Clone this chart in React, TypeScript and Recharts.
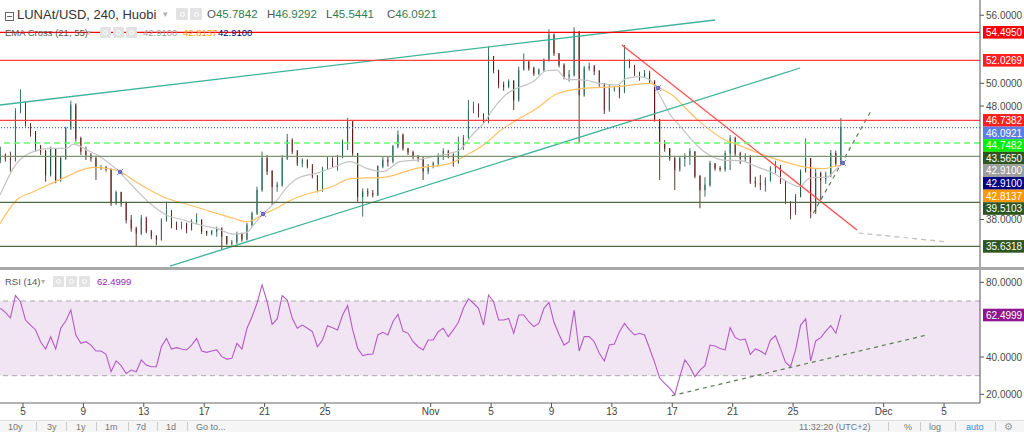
import React from "react";
import {
  ComposedChart,
  Bar,
  Line,
  XAxis,
  YAxis,
  ReferenceLine,
  ReferenceArea,
  Scatter,
} from "recharts";

// ---------------- data ----------------
// 8h candles; x values are days counted from Oct 1, 00:00
const FIRST_CANDLE_DAY = 2.5;
const CANDLE_STEP_DAY = 1 / 3;
const firstOpen = 43.24;

const closes = [
  43.69, 43.39, 43.24, 47.5, 48.24, 46.48, 45.74, 44.42, 43.98, 41.92,
  44.27, 41.48, 43.39, 46.03, 48.09, 45.15, 43.98, 43.69, 43.39, 42.6,
  42.6, 42.42, 39.43, 40.37, 39.43, 37.96, 37.22, 36.78, 38.11, 36.93,
  36.49, 36.26, 37.96, 38.69, 37.52, 37.37, 37.6, 37.13, 37.81, 37.96,
  36.93, 36.78, 36.93, 37.22, 36.49, 35.9, 35.96, 36.72, 36.26, 37.52,
  38.54, 40.6, 43.39, 42.22, 40.89, 41.04, 43.39, 45.01, 43.98, 42.95,
  43.24, 42.72, 41.78, 40.6, 42.51, 43.3, 42.8, 43.54, 44.86, 46.6,
  43.83, 40.01, 40.45, 40.31, 40.16, 42.66, 43.24, 43.1, 44.42, 45.45,
  44.27, 43.89, 43.54, 43.39, 42.22, 42.66, 42.95, 43.54, 43.98, 43.68,
  42.95, 44.27, 45.15, 47.65, 47.94, 47.21, 46.62, 52.35, 51.17, 49.85,
  49.7, 50.15, 48.53, 51.17, 51.91, 51.32, 50.88, 51.17, 52.06, 54.26,
  52.64, 51.61, 50.59, 50.73, 54.55, 48.97, 51.32, 51.47, 51.03, 50.0,
  47.65, 49.56, 49.56, 49.26, 52.06, 51.61, 50.88, 50.53, 50.88, 50.15,
  46.8, 44.71, 44.27, 43.39, 42.36, 43.39, 43.54, 43.98, 41.78, 40.6,
  41.04, 42.95, 42.51, 42.42, 43.83, 45.15, 43.83, 43.39, 43.54, 41.33,
  41.19, 41.04, 41.48, 42.51, 42.71, 41.33, 39.57, 38.6, 40.01, 42.22,
  43.39, 38.69, 42.07, 41.48, 41.92, 43.83, 42.95, 46.09,
];

const highs = [
  44.42, 43.83, 43.98, 47.8, 49.47, 48.38, 46.33, 45.59, 44.57, 44.13,
  44.42, 44.27, 43.54, 46.18, 48.47, 48.24, 45.3, 44.42, 43.83, 43.54,
  42.8, 42.72, 42.51, 40.54, 40.45, 39.57, 38.4, 37.37, 38.4, 38.25,
  37.08, 36.63, 38.11, 39.57, 38.84, 37.81, 37.81, 37.72, 38.02, 38.54,
  38.02, 37.02, 37.08, 37.37, 37.31, 36.55, 36.2, 36.93, 36.84, 37.72,
  38.69, 40.89, 43.98, 43.69, 42.36, 41.33, 43.69, 45.54, 45.15, 44.13,
  43.39, 43.3, 42.89, 41.92, 42.66, 43.54, 43.48, 43.69, 45.06, 46.95,
  46.7, 43.83, 40.75, 40.75, 40.6, 42.77, 43.54, 43.59, 44.57, 45.86,
  45.59, 44.27, 44.07, 43.68, 43.54, 42.89, 43.1, 43.83, 44.27, 44.13,
  43.83, 45.3, 45.45, 48.53, 48.38, 48.24, 47.36, 53.23, 52.41, 51.17,
  50.15, 50.35, 50.29, 51.47, 52.64, 51.82, 51.47, 51.32, 52.2, 54.76,
  54.4, 52.64, 51.76, 51.17, 54.93, 54.4, 51.53, 51.82, 51.61, 51.17,
  50.0, 49.85, 49.76, 49.85, 53.38, 52.11, 51.61, 51.03, 51.17, 51.11,
  50.29, 46.85, 45.0, 44.18, 43.54, 43.59, 43.83, 44.27, 43.98, 41.92,
  41.72, 43.18, 42.95, 42.71, 44.07, 45.45, 45.3, 43.98, 43.83, 43.68,
  41.77, 41.92, 41.72, 42.71, 43.18, 42.8, 41.48, 39.57, 40.25, 42.42,
  45.15, 43.39, 42.51, 42.22, 42.22, 44.13, 44.07, 46.93,
];

const lows = [
  42.95, 43.1, 42.22, 43.1, 47.36, 46.18, 45.3, 43.98, 43.69, 41.33,
  41.78, 41.19, 41.33, 43.24, 45.89, 44.86, 43.69, 43.24, 43.1, 41.48,
  42.36, 42.22, 39.19, 39.28, 39.13, 37.66, 36.93, 35.61, 36.63, 36.78,
  36.26, 35.75, 36.14, 37.81, 37.22, 37.08, 37.13, 36.78, 37.02, 37.6,
  36.72, 36.55, 36.6, 36.49, 35.31, 35.75, 35.67, 35.84, 36.05, 36.14,
  37.37, 38.4, 40.45, 41.92, 39.28, 40.45, 40.89, 43.24, 43.77, 42.72,
  42.6, 42.51, 41.63, 40.39, 40.45, 42.36, 42.6, 42.3, 43.39, 44.13,
  43.6, 39.57, 38.25, 40.01, 39.95, 40.07, 42.51, 42.66, 42.95, 44.27,
  44.07, 43.68, 43.3, 43.1, 41.48, 41.99, 42.51, 42.66, 43.24, 43.39,
  42.66, 42.95, 44.13, 45.15, 47.36, 46.98, 46.42, 46.48, 50.88, 49.56,
  49.35, 49.56, 47.65, 48.38, 51.32, 51.11, 50.65, 50.73, 51.03, 51.91,
  52.41, 51.4, 50.35, 50.15, 50.59, 44.71, 48.82, 51.11, 50.73, 49.7,
  47.3, 47.5, 49.26, 48.68, 49.12, 51.32, 50.65, 50.23, 50.53, 49.94,
  46.62, 41.48, 43.97, 43.18, 40.6, 42.22, 42.66, 42.8, 41.63, 38.99,
  40.01, 40.89, 42.3, 42.22, 42.22, 42.36, 43.59, 42.89, 43.1, 41.13,
  40.84, 40.6, 40.45, 41.33, 42.07, 41.13, 39.37, 38.02, 38.4, 39.95,
  42.13, 38.1, 38.48, 39.72, 41.13, 41.72, 42.71, 42.8,
];

const rsi14 = [
  66.1, 63.9, 61.0, 72.9, 69.6, 59.8, 57.1, 54.5, 48.2, 44.3,
  50.9, 44.3, 55.4, 59.3, 65.2, 51.8, 47.3, 48.2, 46.4, 43.2,
  43.2, 41.4, 32.1, 37.9, 35.4, 31.2, 33.0, 32.1, 38.4, 35.7,
  34.8, 34.8, 45.5, 50.0, 44.3, 45.0, 44.3, 43.8, 46.4, 50.0,
  43.2, 42.5, 43.2, 43.8, 40.2, 38.9, 39.3, 47.3, 44.3, 55.4,
  61.6, 68.8, 78.6, 69.6, 57.5, 60.4, 72.9, 70.5, 60.7, 55.4,
  57.1, 55.4, 53.6, 45.5, 49.1, 56.8, 55.7, 54.5, 62.5, 67.5,
  54.5, 44.6, 40.7, 41.4, 41.6, 51.8, 53.2, 51.8, 58.9, 62.9,
  53.9, 52.7, 48.2, 45.5, 43.8, 49.1, 49.1, 53.6, 55.4, 50.9,
  54.5, 58.6, 66.1, 71.1, 68.8, 66.1, 57.1, 73.2, 69.6, 59.8,
  59.8, 60.7, 52.7, 62.5, 62.5, 58.9, 56.3, 58.0, 66.1, 69.3,
  58.6, 52.1, 46.4, 48.2, 65.2, 43.2, 50.9, 50.9, 48.2, 42.0,
  37.9, 46.4, 47.0, 53.6, 58.0, 54.5, 51.8, 52.7, 51.8, 44.6,
  37.1, 28.6, 25.9, 23.2, 20.0, 29.5, 38.4, 34.8, 29.5, 33.0,
  35.4, 46.4, 45.9, 44.6, 43.8, 55.7, 50.5, 49.1, 49.6, 41.4,
  44.3, 43.2, 41.4, 49.1, 51.4, 44.6, 37.1, 34.8, 43.8, 57.1,
  60.4, 37.9, 48.6, 50.4, 53.9, 56.8, 52.7, 62.5,
];

// EMA lines, sampled at (fractional) candle index
const ema21Idx = [
  -0.07, 3.24, 6.55, 9.86, 13.2, 14.5, 17.2, 19.8, 23.1, 26.4, 29.7, 33.0, 36.4,
  39.7, 43.0, 46.3, 48.9, 50.3, 52.2, 54.9, 56.9, 59.5, 62.8, 66.2, 69.5, 72.8,
  76.1, 79.4, 82.7, 86.0, 89.3, 91.3, 94.0, 96.0, 98.0, 100.6, 102.6, 105.9,
  108.5, 110.5, 112.5, 115.8, 119.1, 122.5, 124.4, 127.1, 129.1, 131.1, 133.0,
  135.7, 137.0, 140.3, 143.6, 147.0, 150.3, 153.6, 156.9, 158.9, 160.2, 161.5,
  164.2, 166.2, 167.2,
];
const ema21 = [
  40.16, 42.95, 43.98, 44.27, 44.27, 44.65, 44.13, 43.54, 42.42, 40.89, 39.43,
  38.4, 37.96, 37.52, 37.22, 36.72, 36.84, 37.52, 38.49, 39.66, 40.83, 41.72,
  42.07, 42.6, 43.1, 42.51, 42.22, 43.1, 43.24, 43.54, 43.83, 44.13, 45.59,
  46.47, 47.8, 49.06, 49.56, 50.15, 51.11, 51.17, 50.35, 50.29, 50.0, 49.85,
  50.44, 50.59, 50.29, 48.88, 47.3, 45.9, 45.2, 43.83, 43.24, 43.18, 42.65,
  42.07, 41.19, 40.89, 41.48, 41.72, 41.72, 42.51, 42.91,
];
const ema55Idx = [
  -0.07, 3.24, 6.55, 9.86, 13.2, 16.5, 18.5, 21.1, 23.8, 26.4, 29.7, 33.0, 36.4,
  39.7, 43.0, 46.3, 48.9, 50.3, 52.2, 54.9, 57.5, 60.9, 63.5, 66.2, 69.5, 76.1,
  82.7, 89.3, 92.6, 96.0, 99.3, 102.6, 106.6, 110.5, 115.8, 122.5, 129.1, 131.1,
  133.7, 135.7, 139.0, 143.6, 147.0, 150.3, 153.6, 156.9, 160.2, 163.5, 166.8,
  167.2,
];
const ema55 = [
  37.66, 39.72, 40.45, 41.13, 41.78, 42.42, 42.6, 42.51, 42.22, 41.48, 40.6,
  39.87, 39.43, 38.99, 38.54, 38.11, 37.81, 37.96, 38.46, 38.99, 39.66, 40.25,
  40.54, 40.95, 41.6, 41.72, 42.51, 42.95, 43.68, 44.57, 45.83, 46.77, 47.8,
  49.06, 49.56, 49.7, 49.99, 49.56, 48.9, 48.0, 46.6, 45.1, 44.5, 43.9, 43.39,
  42.95, 42.6, 42.48, 42.78, 42.81,
];
const crossIdx = [23.8, 52.2, 130.7, 167.4];
const crossPrice = [42.2, 38.49, 49.59, 42.98];

// drawn trend lines: [candle index], [price]
const channelTopIdx = [-0.07, 142.0];
const channelTopPrice = [48.09, 55.58];
const channelLowIdx = [33.7, 158.9];
const channelLowPrice = [33.9, 51.35];
const redTrendIdx = [123.5, 170.2];
const redTrendPrice = [53.38, 37.08];
const greyProjIdx = [170.5, 188.3];
const greyProjPrice = [36.81, 36.02];
const greenProjIdx = [161.5, 173.1];
const greenProjPrice = [38.55, 47.65];
const rsiTrendIdx = [133.4, 184.1];
const rsiTrendValue = [19.3, 51.8];

// horizontal levels + right-axis tags (top to bottom)
const tagValues = [54.495, 52.0269, 46.7382, 46.0921, 44.7482, 43.565, 42.91, 42.91, 42.8137, 39.5103, 35.6318];
const tagTexts = ["54.4950", "52.0269", "46.7382", "46.0921", "44.7482", "43.5650", "42.9100", "42.9100", "42.8137", "39.5103", "35.6318"];
const tagColors = ["#ff0000", "#ff1f1f", "#ff1f1f", "#5b7fe3", "#00ee00", "#2f5420", "#9e9e9e", "#00007f", "#ff9800", "#2f5420", "#2f5420"];
const tagLineColors = ["#ff0000", "#ff4040", "#ff4040", "#4a6fe0", "#66ff66", "#7c9670", null, null, null, "#4f6b42", "#4f6b42"];
const tagLineDash = ["", "", "", "1 2", "6 4", "", "", "", "", "", ""];

const priceTicks = [34, 38, 48, 50, 56];
const rsiTicks = [20, 40, 80];
const dateTickDays = [4, 8, 12, 16, 20, 24, 31, 35, 39, 43, 47, 51, 55, 61, 65];
const dateTickLabels = ["5", "9", "13", "17", "21", "25", "Nov", "5", "9", "13", "17", "21", "25", "Dec", "5"];

const toolbarLeft = ["10y", "3y", "1y", "1m", "7d", "1d", "Go to..."];
const toolbarLeftX = [8, 47, 76, 105, 136, 166, 196];
const toolbarRight = ["11:32:20 (UTC+2)", "%", "log"];
const toolbarRightX = [799, 904, 929];

// ---------------- layout ----------------
const W = 1024;
const AXIS_W = 44;
const MAIN_H = 268;
const RSI_TOP = 270;
const RSI_PLOT_H = 133;
const XAXIS_H = 17;
const X_DOMAIN: [number, number] = [2.477, 67.38];
const PRICE_DOMAIN: [number, number] = [33.728, 57.341];
const RSI_DOMAIN: [number, number] = [15.38, 86.6];
const FONT = '"Liberation Sans", Arial, sans-serif';

const dayOf = (i: number) => FIRST_CANDLE_DAY + i * CANDLE_STEP_DAY;

const candles = closes.map((c, i) => {
  const o = i === 0 ? firstOpen : closes[i - 1];
  const h = Math.max(highs[i], o, c);
  const l = Math.min(lows[i], o, c);
  return { t: dayOf(i), open: o, close: c, high: h, low: l, range: [l, h] };
});
const ema21Data = ema21Idx.map((k, i) => ({ t: dayOf(k), v: ema21[i] }));
const ema55Data = ema55Idx.map((k, i) => ({ t: dayOf(k), v: ema55[i] }));
const crossData = crossIdx.map((k, i) => ({ t: dayOf(k), p: crossPrice[i] }));
const rsiData = rsi14.map((v, i) => ({ t: dayOf(i), v }));

const seg = (idx: number[], val: number[]) => [
  { x: dayOf(idx[0]), y: val[0] },
  { x: dayOf(idx[1]), y: val[1] },
];

// stacking of the right-axis tags so they do not overlap
const pxPerUnit = MAIN_H / (PRICE_DOMAIN[1] - PRICE_DOMAIN[0]);
const TAG_H = 12.6;
const tagOffsets: number[] = [];
{
  let prev = -Infinity;
  tagValues.forEach((v) => {
    const natural = (PRICE_DOMAIN[1] - v) * pxPerUnit;
    const placed = Math.max(natural, prev + TAG_H);
    tagOffsets.push(placed - natural);
    prev = placed;
  });
}

const Candle = (props: any) => {
  const { x, y, width, height, payload } = props;
  if (!payload || height == null) return null;
  const { open, close, high, low } = payload;
  const top = Math.min(y, y + height);
  const h = Math.abs(height);
  const span = high - low || 1e-9;
  const yOf = (v: number) => top + ((high - v) / span) * h;
  const cx = x + width / 2;
  const up = close >= open;
  const bt = yOf(Math.max(open, close));
  const bb = yOf(Math.min(open, close));
  return (
    <g>
      <line x1={cx} x2={cx} y1={top} y2={top + h} stroke={up ? "#3f6f60" : "#5a3a33"} strokeWidth={1} />
      <rect
        x={x}
        y={bt}
        width={width}
        height={Math.max(bb - bt, 0.8)}
        fill={up ? "#2dbfa5" : "#c4463a"}
        stroke={up ? "#225c4e" : "#5c1d16"}
        strokeWidth={0.6}
      />
    </g>
  );
};

const CrossMark = (props: any) => {
  const { cx, cy } = props;
  return (
    <g>
      <circle cx={cx} cy={cy} r={2.2} fill="#5a5ac8" />
      <line x1={cx - 3} x2={cx + 3} y1={cy - 3} y2={cy + 3} stroke="#7a7ad8" strokeWidth={1} />
      <line x1={cx - 3} x2={cx + 3} y1={cy + 3} y2={cy - 3} stroke="#7a7ad8" strokeWidth={1} />
    </g>
  );
};

const Tag = (props: any) => {
  const { viewBox, text, bg, dy } = props;
  if (!viewBox) return null;
  const x = viewBox.x + viewBox.width + 3;
  const y = viewBox.y + (dy || 0);
  return (
    <g>
      <rect x={x} y={y - 6.3} width={W - x} height={12.6} fill={bg} />
      <text x={x + 3} y={y + 3.6} fontSize={10} fill="#ffffff" fontFamily={FONT}>
        {text}
      </text>
    </g>
  );
};

const IconBox = ({ left, top, size = 12 }: { left: number; top: number; size?: number }) => (
  <div
    style={{
      position: "absolute",
      left,
      top,
      width: size,
      height: size,
      background: "#e3e3e3",
      borderRadius: 1,
    }}
  >
    <div
      style={{
        position: "absolute",
        left: size / 2 - 2.5,
        top: size / 2 - 2.5,
        width: 5,
        height: 5,
        borderRadius: 3,
        border: "1px solid #fff",
        boxSizing: "border-box",
      }}
    />
  </div>
);

const txt = (left: number, top: number, size: number, color: string, s: string, extra: any = {}) => (
  <div
    style={{
      position: "absolute",
      left,
      top,
      fontSize: size,
      lineHeight: `${size}px`,
      color,
      fontFamily: FONT,
      whiteSpace: "nowrap",
      ...extra,
    }}
  >
    {s}
  </div>
);

export default function App() {
  return (
    <div
      style={{
        position: "absolute",
        left: 0,
        top: 0,
        width: W,
        height: 432,
        background: "#fff",
        overflow: "hidden",
      }}
    >
      {/* main price pane */}
      <div style={{ position: "absolute", left: 0, top: 0 }}>
        <ComposedChart width={W} height={MAIN_H} data={candles} margin={{ top: 0, right: 0, bottom: 0, left: 0 }}>
          <XAxis type="number" dataKey="t" domain={X_DOMAIN} allowDataOverflow hide />
          <YAxis
            orientation="right"
            width={AXIS_W}
            domain={PRICE_DOMAIN}
            allowDataOverflow
            ticks={priceTicks}
            tickFormatter={(v: number) => v.toFixed(4)}
            tick={{ fontSize: 10, fill: "#4a4a4a", fontFamily: FONT }}
            tickSize={4}
            tickMargin={2}
            tickLine={{ stroke: "#555" }}
            axisLine={{ stroke: "#555" }}
          />
          <Bar dataKey="range" barSize={3.4} shape={(p: any) => <Candle {...p} />} isAnimationActive={false} />
          <Line data={ema21Data} dataKey="v" type="monotone" stroke="#c4c4c4" strokeWidth={1.2} dot={false} isAnimationActive={false} />
          <Line data={ema55Data} dataKey="v" type="monotone" stroke="#ffc064" strokeWidth={1.2} dot={false} isAnimationActive={false} />
          <ReferenceLine segment={seg(channelTopIdx, channelTopPrice)} stroke="#3fb39b" strokeWidth={1.3} ifOverflow="hidden" />
          <ReferenceLine segment={seg(channelLowIdx, channelLowPrice)} stroke="#3fb39b" strokeWidth={1.3} ifOverflow="hidden" />
          <ReferenceLine segment={seg(redTrendIdx, redTrendPrice)} stroke="#ff4d4d" strokeWidth={1.3} ifOverflow="hidden" />
          <ReferenceLine segment={seg(greyProjIdx, greyProjPrice)} stroke="#bdbdbd" strokeWidth={1.2} strokeDasharray="5 4" ifOverflow="hidden" />
          <ReferenceLine segment={seg(greenProjIdx, greenProjPrice)} stroke="#5f7d55" strokeWidth={1.2} strokeDasharray="4 4" ifOverflow="hidden" />
          {tagValues.map((v, i) => (
            <ReferenceLine
              key={"lvl" + i}
              y={v}
              stroke={tagLineColors[i] || "none"}
              strokeWidth={tagLineColors[i] ? (i === 4 ? 1.5 : 1.2) : 0}
              strokeDasharray={tagLineDash[i] || undefined}
              label={<Tag text={tagTexts[i]} bg={tagColors[i]} dy={tagOffsets[i]} />}
            />
          ))}
          <Scatter data={crossData} dataKey="p" shape={(p: any) => <CrossMark {...p} />} isAnimationActive={false} />
        </ComposedChart>
      </div>

      {/* pane separator */}
      <div style={{ position: "absolute", left: 0, top: MAIN_H - 1, width: W, height: 3, background: "#a8a8a8" }} />

      {/* RSI pane */}
      <div style={{ position: "absolute", left: 0, top: RSI_TOP }}>
        <ComposedChart width={W} height={RSI_PLOT_H + XAXIS_H} data={rsiData} margin={{ top: 0, right: 0, bottom: 0, left: 0 }}>
          <XAxis
            type="number"
            dataKey="t"
            domain={X_DOMAIN}
            allowDataOverflow
            ticks={dateTickDays}
            interval={0}
            tickFormatter={(v: number) => dateTickLabels[dateTickDays.indexOf(v)] ?? ""}
            height={XAXIS_H}
            tick={{ fontSize: 10, fill: "#444", fontFamily: FONT }}
            tickSize={4}
            tickMargin={1}
            tickLine={{ stroke: "#555" }}
            axisLine={{ stroke: "#b3b3b3", strokeWidth: 2 }}
          />
          <YAxis
            orientation="right"
            width={AXIS_W}
            domain={RSI_DOMAIN}
            allowDataOverflow
            ticks={rsiTicks}
            tickFormatter={(v: number) => v.toFixed(4)}
            tick={{ fontSize: 10, fill: "#4a4a4a", fontFamily: FONT }}
            tickSize={4}
            tickMargin={2}
            tickLine={{ stroke: "#555" }}
            axisLine={{ stroke: "#555" }}
          />
          <ReferenceArea y1={30} y2={70} fill="#f1e4f3" fillOpacity={1} stroke="none" />
          <ReferenceLine y={70} stroke="#a9a9a9" strokeDasharray="5 4" />
          <ReferenceLine y={30} stroke="#a9a9a9" strokeDasharray="5 4" />
          <ReferenceLine segment={seg(rsiTrendIdx, rsiTrendValue)} stroke="#5d7a55" strokeWidth={1.2} strokeDasharray="4 4" ifOverflow="hidden" />
          <Line dataKey="v" type="linear" stroke="#b45cc6" strokeWidth={1.1} dot={false} isAnimationActive={false} />
          <ReferenceLine y={62.4999} stroke="none" label={<Tag text="62.4999" bg="#8e168e" dy={0} />} />
        </ComposedChart>
      </div>

      {/* header: main */}
      <div
        style={{
          position: "absolute",
          left: 5,
          top: 12,
          width: 9,
          height: 9,
          border: "1px solid #666",
          boxSizing: "border-box",
        }}
      >
        <div style={{ position: "absolute", left: 1, top: 3, width: 5, height: 1, background: "#666" }} />
      </div>
      {txt(17, 8, 13, "#333", "LUNAt/USD, 240, Huobi")}
      {txt(163, 10, 9, "#b0b0b0", "▾")}
      <IconBox left={176} top={8} />
      <IconBox left={190} top={8} />
      {[
        ["O", "45.7842", 207],
        ["H", "46.9292", 267],
        ["L", "45.5441", 326],
        ["C", "46.0921", 387],
      ].map(([k, v, l]) => (
        <div key={k as string} style={{ position: "absolute", left: l as number, top: 9, fontFamily: FONT, fontSize: 11.5, lineHeight: "11.5px", whiteSpace: "nowrap" }}>
          <span style={{ color: "#555" }}>{k}</span>
          <span style={{ color: "#2e7d4f" }}>{v}</span>
        </div>
      ))}
      {txt(5, 28, 9.5, "#555", "EMA Cross (21, 55)")}
      {txt(87, 29, 8, "#b0b0b0", "▾")}
      <IconBox left={100} top={27} size={11} />
      <IconBox left={113} top={27} size={11} />
      <IconBox left={126} top={27} size={11} />
      {txt(143, 28, 9.5, "#9e9e9e", "42.9100")}
      {txt(183, 28, 9.5, "#ff9800", "42.8137")}
      {txt(218, 28, 9.5, "#00007f", "42.9100")}

      {/* header: RSI */}
      {txt(5, 277, 9.5, "#555", "RSI (14)")}
      {txt(41, 278, 8, "#b0b0b0", "▾")}
      <IconBox left={53} top={276} size={11} />
      <IconBox left={66} top={276} size={11} />
      <IconBox left={79} top={276} size={11} />
      {txt(97, 277, 9.5, "#9c27b0", "62.4999")}

      {/* bottom toolbar */}
      <div style={{ position: "absolute", left: 0, top: 420, width: W, height: 12, background: "#f5f5f5", borderTop: "1px solid #e0e0e0", overflow: "hidden" }}>
        {toolbarLeft.map((s, i) => (
          <div key={s} style={{ position: "absolute", left: toolbarLeftX[i], top: 1, fontSize: 9, lineHeight: "10px", fontFamily: FONT, color: "#777", whiteSpace: "nowrap" }}>
            {s}
          </div>
        ))}
        {toolbarRight.map((s, i) => (
          <div key={s} style={{ position: "absolute", left: toolbarRightX[i], top: 1, fontSize: 9, lineHeight: "10px", fontFamily: FONT, color: "#777", whiteSpace: "nowrap" }}>
            {s}
          </div>
        ))}
        <div style={{ position: "absolute", left: 966, top: 1, fontSize: 9, lineHeight: "10px", fontFamily: FONT, color: "#3c8de0" }}>auto</div>
        <div style={{ position: "absolute", left: 1004, top: 0, fontSize: 10, lineHeight: "11px", fontFamily: FONT, color: "#999" }}>⚙</div>
        {[36, 66, 96, 128, 157, 187, 888, 920, 955, 995].map((l) => (
          <div key={"sep" + l} style={{ position: "absolute", left: l, top: 1, width: 1, height: 9, background: "#ccc" }} />
        ))}
      </div>
    </div>
  );
}
